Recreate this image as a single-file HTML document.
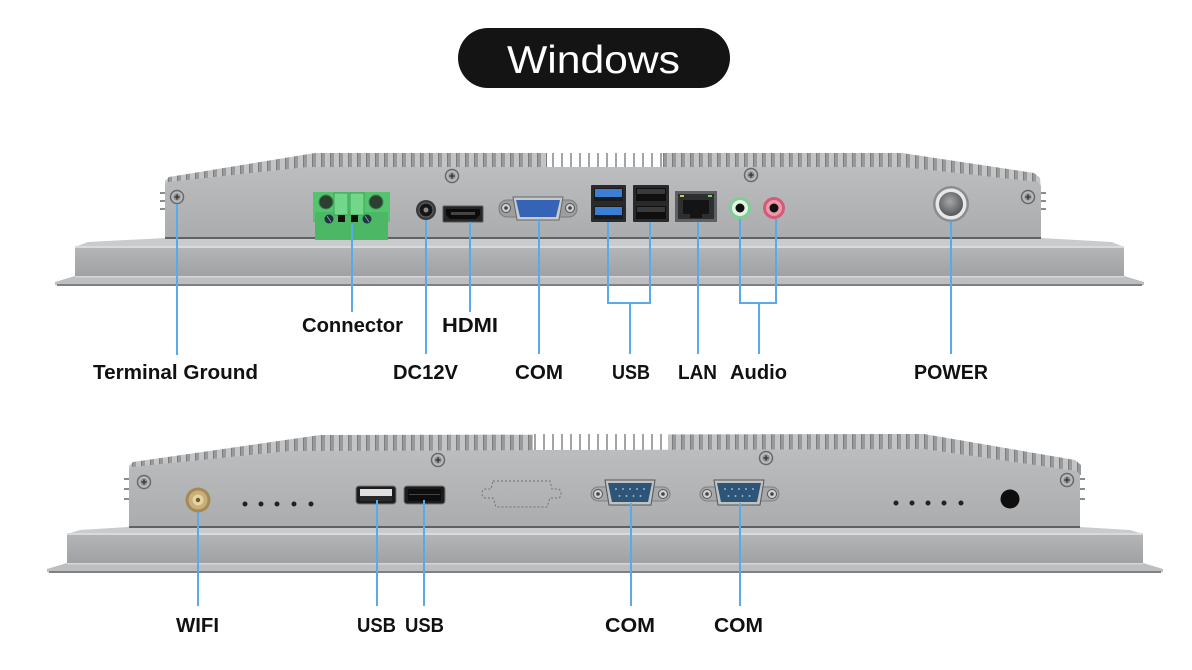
<!DOCTYPE html>
<html><head><meta charset="utf-8">
<style>
html,body{margin:0;padding:0;background:#fff;}
svg{display:block;}
text{font-family:"Liberation Sans",Arial,sans-serif;}
</style></head>
<body>
<svg width="1192" height="670" viewBox="0 0 1192 670" xmlns="http://www.w3.org/2000/svg">
<defs>
 <pattern id="fin" width="9" height="40" patternUnits="userSpaceOnUse">
   <rect width="9" height="40" fill="#97999b"/>
   <rect x="1" width="5" height="40" fill="#c2c4c5"/>
   <rect x="6" width="1" height="40" fill="#7b7d7f"/>
 </pattern>
 <pattern id="finThin" width="9" height="40" patternUnits="userSpaceOnUse">
   <rect width="9" height="40" fill="#ffffff"/>
   <rect x="3" width="2" height="40" fill="#a2a4a6"/>
 </pattern>
 <linearGradient id="bodyG" x1="0" y1="0" x2="0" y2="1">
   <stop offset="0" stop-color="#bbbdbf"/>
   <stop offset="1" stop-color="#aaacae"/>
 </linearGradient>
 <linearGradient id="faceG" x1="0" y1="0" x2="0" y2="1">
   <stop offset="0" stop-color="#b4b6b8"/>
   <stop offset="1" stop-color="#9fa1a3"/>
 </linearGradient>
 <radialGradient id="pwrG" cx="0.45" cy="0.4" r="0.6">
   <stop offset="0" stop-color="#a5a7a9"/>
   <stop offset="1" stop-color="#55575a"/>
 </radialGradient>
 <g id="screw">
   <circle r="6.5" fill="#b8babc" stroke="#67696b" stroke-width="1.5"/>
   <circle r="3.6" fill="#8e9092"/>
   <path d="M-2.6,0 H2.6 M0,-2.6 V2.6" stroke="#333" stroke-width="1.3"/>
 </g>
 <g id="dsub">
   <rect x="-39" y="7" width="79" height="14" rx="7" fill="#a6a8aa" stroke="#7e8082"/>
   <circle cx="-32" cy="14" r="4.5" fill="#d2d2d2" stroke="#555"/>
   <circle cx="-32" cy="14" r="1.8" fill="#444"/>
   <circle cx="33" cy="14" r="4.5" fill="#d2d2d2" stroke="#555"/>
   <circle cx="33" cy="14" r="1.8" fill="#444"/>
   <path d="M-25,0 H25 L21,25 H-21 Z" fill="#c0c2c4" stroke="#555"/>
   <path d="M-22,3 H22 L18,22 H-18 Z" fill="#2c5578"/>
   <g fill="#9bb3c8">
     <circle cx="-14" cy="9" r="1"/><circle cx="-7" cy="9" r="1"/><circle cx="0" cy="9" r="1"/><circle cx="7" cy="9" r="1"/><circle cx="14" cy="9" r="1"/>
     <circle cx="-10.5" cy="16" r="1"/><circle cx="-3.5" cy="16" r="1"/><circle cx="3.5" cy="16" r="1"/><circle cx="10.5" cy="16" r="1"/>
   </g>
 </g>
</defs>

<!-- Title pill -->
<rect x="458" y="28" width="272" height="60" rx="30" fill="#141414"/>
<text x="507" y="73" font-size="39" fill="#ffffff" textLength="173" lengthAdjust="spacingAndGlyphs">Windows</text>

<!-- ================= TOP DEVICE ================= -->
<!-- bezel -->
<polygon points="75,247 88,242 165,238 1041,238 1112,242 1124,247" fill="#c9cbcc"/>
<rect x="75" y="246" width="1049" height="30" fill="url(#faceG)"/>
<rect x="75" y="246" width="1049" height="2" fill="#d9dadb"/>
<polygon points="75,276 1124,276 1144,282 1144,285 1124,286 75,286 55,285 55,282" fill="#bcbec0"/>
<rect x="75" y="276" width="1049" height="1.5" fill="#d4d5d6"/>
<line x1="57" y1="285" x2="1142" y2="285" stroke="#7e8082" stroke-width="2"/>
<!-- fins -->
<polygon points="165,190 165,181 169,177 315,153 902,153 1034,173 1040,178 1041,190" fill="url(#fin)"/>
<rect x="547" y="153" width="116" height="15" fill="url(#finThin)"/>
<!-- body -->
<polygon points="165,239 165,186 168,182 308,167 902,167 1038,182 1041,186 1041,239" fill="url(#bodyG)"/>
<line x1="165" y1="238" x2="1041" y2="238" stroke="#5f6163" stroke-width="2"/>
<g fill="#8a8c8e"><rect x="160" y="192" width="5" height="2"/><rect x="160" y="200" width="5" height="2"/><rect x="160" y="208" width="5" height="2"/>
<rect x="1041" y="192" width="5" height="2"/><rect x="1041" y="200" width="5" height="2"/><rect x="1041" y="208" width="5" height="2"/></g>
<!-- screws -->
<use href="#screw" x="177" y="197"/>
<use href="#screw" x="452" y="176"/>
<use href="#screw" x="751" y="175"/>
<use href="#screw" x="1028" y="197"/>
<!-- green terminal -->
<rect x="313" y="192" width="77" height="30" fill="#55c46e"/>
<rect x="315" y="212" width="73" height="28" fill="#4cb866"/>
<circle cx="326" cy="202" r="7" fill="#2d3f30" stroke="#3c8a4f"/>
<circle cx="376" cy="202" r="7" fill="#2d3f30" stroke="#3c8a4f"/>
<rect x="334" y="193" width="14" height="22" fill="#72d68b" stroke="#3ea557"/>
<rect x="350" y="193" width="14" height="22" fill="#72d68b" stroke="#3ea557"/>
<circle cx="329" cy="219" r="4.5" fill="#1f3340"/><line x1="327" y1="216" x2="331" y2="222" stroke="#7a9aa8"/>
<circle cx="367" cy="219" r="4.5" fill="#1f3340"/><line x1="365" y1="216" x2="369" y2="222" stroke="#7a9aa8"/>
<rect x="338" y="215" width="7" height="7" fill="#111"/>
<rect x="351" y="215" width="7" height="7" fill="#111"/>
<!-- DC jack -->
<circle cx="426" cy="210" r="10" fill="#3a3a3a"/>
<circle cx="426" cy="210" r="7" fill="#151515" stroke="#666"/>
<circle cx="426" cy="210" r="2.5" fill="#888"/>
<!-- HDMI -->
<rect x="443" y="206" width="40" height="16" rx="1" fill="#262626" stroke="#5a5a5a"/>
<path d="M446,209 H480 V215 L476,219 H450 L446,215 Z" fill="#0c0c0c"/>
<rect x="451" y="212" width="24" height="3" fill="#444"/>
<!-- VGA -->
<rect x="499" y="200" width="78" height="17" rx="8" fill="#9c9ea0" stroke="#7a7c7e"/>
<circle cx="506" cy="208" r="4.5" fill="#d0d0d0" stroke="#555"/><circle cx="506" cy="208" r="1.8" fill="#444"/>
<circle cx="570" cy="208" r="4.5" fill="#d0d0d0" stroke="#555"/><circle cx="570" cy="208" r="1.8" fill="#444"/>
<path d="M513,197 H563 L559,220 H517 Z" fill="#c8cacc" stroke="#666"/>
<path d="M516,200 H560 L556,217 H520 Z" fill="#3563b5"/>
<!-- USB blue stack -->
<rect x="591" y="185" width="35" height="37" rx="1" fill="#2a2a2a"/>
<rect x="594" y="188" width="29" height="13" fill="#1b1b1b"/>
<rect x="595" y="189" width="27" height="8" fill="#3a7fd5"/>
<rect x="594" y="206" width="29" height="13" fill="#1b1b1b"/>
<rect x="595" y="207" width="27" height="8" fill="#3a7fd5"/>
<!-- USB black stack -->
<rect x="633" y="185" width="36" height="37" rx="1" fill="#2a2a2a"/>
<rect x="636" y="188" width="30" height="13" fill="#0f0f0f"/>
<rect x="637" y="189" width="28" height="5" fill="#3a3a3a"/>
<rect x="636" y="206" width="30" height="13" fill="#0f0f0f"/>
<rect x="637" y="207" width="28" height="5" fill="#3a3a3a"/>
<!-- LAN -->
<rect x="675" y="191" width="42" height="31" fill="#5d5f61"/>
<rect x="678" y="194" width="36" height="25" fill="#2e2f30"/>
<path d="M683,200 H709 V214 H702 V218 H690 V214 H683 Z" fill="#141414"/>
<rect x="680" y="195" width="4" height="2" fill="#d8c24a"/>
<rect x="708" y="195" width="4" height="2" fill="#7ad06e"/>
<!-- Audio -->
<circle cx="740" cy="208" r="11" fill="#7fcf94"/>
<circle cx="740" cy="208" r="8" fill="#e5f2e8"/>
<circle cx="740" cy="208" r="4.5" fill="#111"/>
<circle cx="774" cy="208" r="11" fill="#d45a77"/>
<circle cx="774" cy="208" r="8" fill="#eb98ab"/>
<circle cx="774" cy="208" r="4.5" fill="#111"/>
<!-- Power -->
<circle cx="951" cy="204" r="18" fill="#8a8c8e"/>
<circle cx="951" cy="204" r="15.5" fill="#e8e8e8"/>
<circle cx="951" cy="204" r="12" fill="url(#pwrG)"/>

<!-- ================= BOTTOM DEVICE ================= -->
<polygon points="67,534 80,530 129,527 1080,527 1130,530 1143,534" fill="#c9cbcc"/>
<rect x="67" y="533" width="1076" height="30" fill="url(#faceG)"/>
<rect x="67" y="533" width="1076" height="2" fill="#d9dadb"/>
<polygon points="67,563 1143,563 1163,569 1163,572 1143,573 67,573 47,572 47,569" fill="#bcbec0"/>
<rect x="67" y="563" width="1076" height="1.5" fill="#d4d5d6"/>
<line x1="49" y1="572" x2="1161" y2="572" stroke="#7e8082" stroke-width="2"/>
<polygon points="129,472 129,466 133,462 320,435 924,434 1075,460 1081,465 1081,475" fill="url(#fin)"/>
<rect x="533" y="434" width="135" height="16" fill="url(#finThin)"/>
<polygon points="129,528 129,470 132,467 290,451 924,449 1077,471 1080,475 1080,528" fill="url(#bodyG)"/>
<line x1="129" y1="527" x2="1080" y2="527" stroke="#5f6163" stroke-width="2"/>
<g fill="#8a8c8e"><rect x="124" y="478" width="5" height="2"/><rect x="124" y="488" width="5" height="2"/><rect x="124" y="498" width="5" height="2"/>
<rect x="1080" y="478" width="5" height="2"/><rect x="1080" y="488" width="5" height="2"/><rect x="1080" y="498" width="5" height="2"/></g>
<use href="#screw" x="144" y="482"/>
<use href="#screw" x="438" y="460"/>
<use href="#screw" x="766" y="458"/>
<use href="#screw" x="1067" y="480"/>
<!-- SMA -->
<circle cx="198" cy="500" r="12.5" fill="#a48a55"/>
<circle cx="198" cy="500" r="9.5" fill="#c9b07a"/>
<circle cx="198" cy="500" r="5.5" fill="#e6d3a3"/>
<circle cx="198" cy="500" r="2.2" fill="#6c5a35"/>
<!-- dots -->
<g fill="#222">
<circle cx="245" cy="504" r="2.5"/><circle cx="261" cy="504" r="2.5"/><circle cx="277" cy="504" r="2.5"/><circle cx="294" cy="504" r="2.5"/><circle cx="311" cy="504" r="2.5"/>
<circle cx="896" cy="503" r="2.5"/><circle cx="912" cy="503" r="2.5"/><circle cx="928" cy="503" r="2.5"/><circle cx="944" cy="503" r="2.5"/><circle cx="961" cy="503" r="2.5"/>
</g>
<!-- USB ports -->
<rect x="356" y="486" width="40" height="18" rx="3" fill="#1c1c1c" stroke="#777"/>
<rect x="360" y="489" width="32" height="7" fill="#e0e0e0"/>
<rect x="360" y="496" width="32" height="5" fill="#2a2a2a"/>
<rect x="404" y="486" width="41" height="18" rx="3" fill="#1c1c1c" stroke="#777"/>
<rect x="408" y="489" width="33" height="12" fill="#0d0d0d"/>
<rect x="409" y="494" width="31" height="1" fill="#444"/>
<!-- dashed DB9 knockout -->
<path d="M493,481 H550 L552,489 H557 Q561,489 561,493.5 Q561,498 557,498 H550 L547,507 H496 L493,498 H486 Q482,498 482,493.5 Q482,489 486,489 H491 Z" fill="none" stroke="#707274" stroke-width="1" stroke-dasharray="2 2"/>
<!-- COM ports -->
<use href="#dsub" x="630" y="480"/>
<use href="#dsub" x="739" y="480"/>
<!-- black hole -->
<circle cx="1010" cy="499" r="9.5" fill="#0e0e0e"/>

<!-- ================= CONNECTOR LINES ================= -->
<g stroke="#5aa9ea" stroke-width="2" fill="none">
 <line x1="177" y1="204" x2="177" y2="355"/>
 <line x1="352" y1="224" x2="352" y2="312"/>
 <line x1="426" y1="220" x2="426" y2="354"/>
 <line x1="470" y1="222" x2="470" y2="312"/>
 <line x1="539" y1="220" x2="539" y2="354"/>
 <polyline points="608,222 608,303 650,303 650,222"/>
 <line x1="630" y1="303" x2="630" y2="354"/>
 <line x1="698" y1="222" x2="698" y2="354"/>
 <polyline points="740,219 740,303 776,303 776,219"/>
 <line x1="759" y1="303" x2="759" y2="354"/>
 <line x1="951" y1="222" x2="951" y2="354"/>
 <line x1="198" y1="512" x2="198" y2="606"/>
 <line x1="377" y1="500" x2="377" y2="606"/>
 <line x1="424" y1="500" x2="424" y2="606"/>
 <line x1="631" y1="503" x2="631" y2="606"/>
 <line x1="740" y1="503" x2="740" y2="606"/>
</g>

<!-- ================= LABELS ================= -->
<g font-size="20" font-weight="bold" fill="#111">
 <text x="302" y="332" textLength="101" lengthAdjust="spacingAndGlyphs">Connector</text>
 <text x="442" y="332" textLength="56" lengthAdjust="spacingAndGlyphs">HDMI</text>
 <text x="93" y="379" textLength="165" lengthAdjust="spacingAndGlyphs">Terminal Ground</text>
 <text x="393" y="379" textLength="65" lengthAdjust="spacingAndGlyphs">DC12V</text>
 <text x="515" y="379" textLength="48" lengthAdjust="spacingAndGlyphs">COM</text>
 <text x="612" y="379" textLength="38" lengthAdjust="spacingAndGlyphs">USB</text>
 <text x="678" y="379" textLength="39" lengthAdjust="spacingAndGlyphs">LAN</text>
 <text x="730" y="379" textLength="57" lengthAdjust="spacingAndGlyphs">Audio</text>
 <text x="914" y="379" textLength="74" lengthAdjust="spacingAndGlyphs">POWER</text>
 <text x="176" y="632" textLength="43" lengthAdjust="spacingAndGlyphs">WIFI</text>
 <text x="357" y="632" textLength="39" lengthAdjust="spacingAndGlyphs">USB</text>
 <text x="405" y="632" textLength="39" lengthAdjust="spacingAndGlyphs">USB</text>
 <text x="605" y="632" textLength="50" lengthAdjust="spacingAndGlyphs">COM</text>
 <text x="714" y="632" textLength="49" lengthAdjust="spacingAndGlyphs">COM</text>
</g>
</svg>
</body></html>
